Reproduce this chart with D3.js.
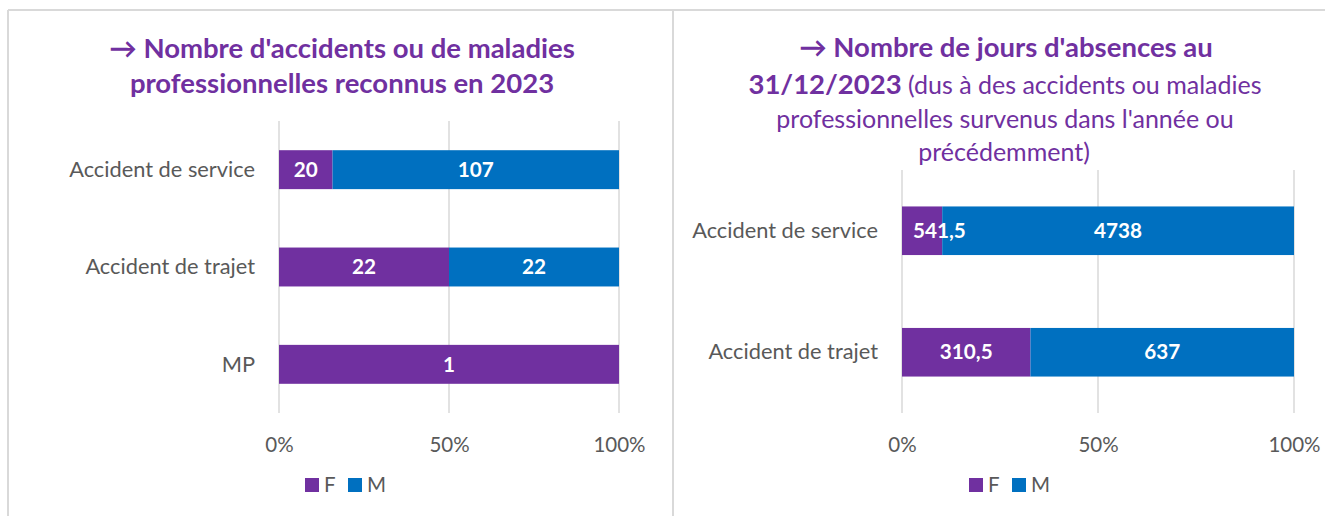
<!DOCTYPE html>
<html><head><meta charset="utf-8">
<script src="https://cdn.jsdelivr.net/npm/d3@7"></script>
<style>
html,body{margin:0;padding:0;background:#fff;}
svg{display:block;}
text{font-family:Lato,"Open Sans",sans-serif;}
</style></head>
<body>
<svg id="c" width="1325" height="516"></svg>
<script>
// ---- data ----
const series = ["F", "M"];
const categories1 = ["Accident de service", "Accident de trajet", "MP"];
const valuesF1 = [20, 22, 1];
const valuesM1 = [107, 22, 0];
const categories2 = ["Accident de service", "Accident de trajet"];
const valuesF2 = [541.5, 310.5];
const valuesM2 = [4738, 637];
const tickValues = [0, 0.5, 1];
const tickLabels = ["0%", "50%", "100%"];

const colors = {F: "#7030A0", M: "#0070C0"};
const grey = "#595959";
const fr = d3.formatLocale({decimal: ",", thousands: "\u202f", grouping: [3], currency: ["", " €"]});
const fmt = v => Number.isInteger(v) ? String(v) : fr.format(",.1f")(v);

const svg = d3.select("#c");

// panel borders
svg.append("line").attr("x1", 8).attr("x2", 1325).attr("y1", 10).attr("y2", 10).attr("stroke", "#d9d9d9").attr("stroke-width", 2);
svg.append("line").attr("x1", 8).attr("x2", 8).attr("y1", 10).attr("y2", 516).attr("stroke", "#d9d9d9").attr("stroke-width", 2);
svg.append("line").attr("x1", 673).attr("x2", 673).attr("y1", 10).attr("y2", 516).attr("stroke", "#d9d9d9").attr("stroke-width", 2);

function drawChart(cfg) {
  const {cats, F, M, x0, x1, y0, y1, legendX} = cfg;
  const rows = cats.map((c, i) => ({cat: c, F: F[i], M: M[i]}));
  const stack = d3.stack().keys(series).offset(d3.stackOffsetExpand);
  const stacked = stack(rows);
  const x = d3.scaleLinear().domain([0, 1]).range([x0, x1]);
  const y = d3.scaleBand().domain(cats).range([y0, y1]).paddingInner(0.6).paddingOuter(0.3);
  const g = svg.append("g");

  // gridlines
  g.selectAll("line.grid").data(tickValues).join("line")
    .attr("x1", d => x(d)).attr("x2", d => x(d))
    .attr("y1", y0).attr("y2", y1)
    .attr("stroke", "#d9d9d9").attr("stroke-width", 1.5);

  // axis tick labels
  const xAxis = d3.axisBottom(x).tickValues(tickValues).tickFormat((d, i) => tickLabels[i]).tickSize(0).tickPadding(0);
  const ax = g.append("g").attr("transform", `translate(0,${y1 + 40})`).call(xAxis);
  ax.select(".domain").remove();
  ax.selectAll("text").attr("font-size", 20.5).attr("fill", grey).attr("font-family", "Lato").attr("dy", "0").attr("dominant-baseline", "middle").attr("y", -6);

  // category labels
  const yAxis = d3.axisLeft(y).tickSize(0).tickPadding(24);
  const ay = g.append("g").attr("transform", `translate(${x0},0)`).call(yAxis);
  ay.select(".domain").remove();
  ay.selectAll("text").attr("font-size", 21.8).attr("fill", grey).attr("font-family", "Lato").attr("dy", "0.33em");

  // bars
  stacked.forEach(layer => {
    const key = layer.key;
    g.selectAll(null).data(layer).join("rect")
      .attr("x", d => x(d[0])).attr("width", d => Math.max(0, x(d[1]) - x(d[0])))
      .attr("y", d => y(d.data.cat)).attr("height", y.bandwidth())
      .attr("fill", colors[key]);
  });
  // labels
  stacked.forEach(layer => {
    const key = layer.key;
    layer.forEach(d => {
      const v = d.data[key];
      if (!v) return;
      const t = g.append("text")
        .attr("y", y(d.data.cat) + y.bandwidth() / 2)
        .attr("dy", "0.35em").attr("text-anchor", "middle")
        .attr("font-size", 20.7).attr("font-weight", 700).attr("fill", "#fff")
        .text(fmt(v));
      const w = t.node().getComputedTextLength();
      let cx = (x(d[0]) + x(d[1])) / 2;
      cx = Math.max(cx, x0 + 11 + w / 2);
      t.attr("x", cx);
    });
  });

  // legend
  const lg = g.append("g").attr("transform", `translate(${legendX},478)`);
  const offs = [0, 43];
  series.forEach((s, i) => {
    lg.append("rect").attr("x", offs[i]).attr("y", 0).attr("width", 14).attr("height", 14).attr("fill", colors[s]);
    lg.append("text").attr("x", offs[i] + 19).attr("y", 7).attr("dy", "0.35em")
      .attr("font-size", 20.5).attr("fill", grey).text(s);
  });
}

drawChart({cats: categories1, F: valuesF1, M: valuesM1, x0: 279, x1: 619, y0: 121, y1: 413, legendX: 305});
drawChart({cats: categories2, F: valuesF2, M: valuesM2, x0: 902, x1: 1294, y0: 170, y1: 413, legendX: 969});

// titles
const purple = "#7030A0";
function titleLine(cx, cy, parts) {
  const t = svg.append("text").attr("x", cx).attr("y", cy).attr("dy", "0.35em")
    .attr("text-anchor", "middle").attr("fill", purple);
  parts.forEach(p => t.append("tspan").attr("font-weight", p.b ? 700 : 400)
    .attr("font-size", p.b ? 27.5 : 25).text(p.t));
}
titleLine(342, 52, [{t: "\u2192 Nombre d'accidents ou de maladies", b: true}]);
titleLine(342, 87, [{t: "professionnelles reconnus en 2023", b: true}]);
titleLine(1006, 51, [{t: "\u2192 Nombre de jours d'absences au", b: true}]);
titleLine(1005, 88, [{t: "31/12/2023", b: true}, {t: " (dus à des accidents ou maladies", b: false}]);
titleLine(1005, 122, [{t: "professionnelles survenus dans l'année ou", b: false}]);
titleLine(1004, 155, [{t: "précédemment)", b: false}]);
</script>
</body></html>
